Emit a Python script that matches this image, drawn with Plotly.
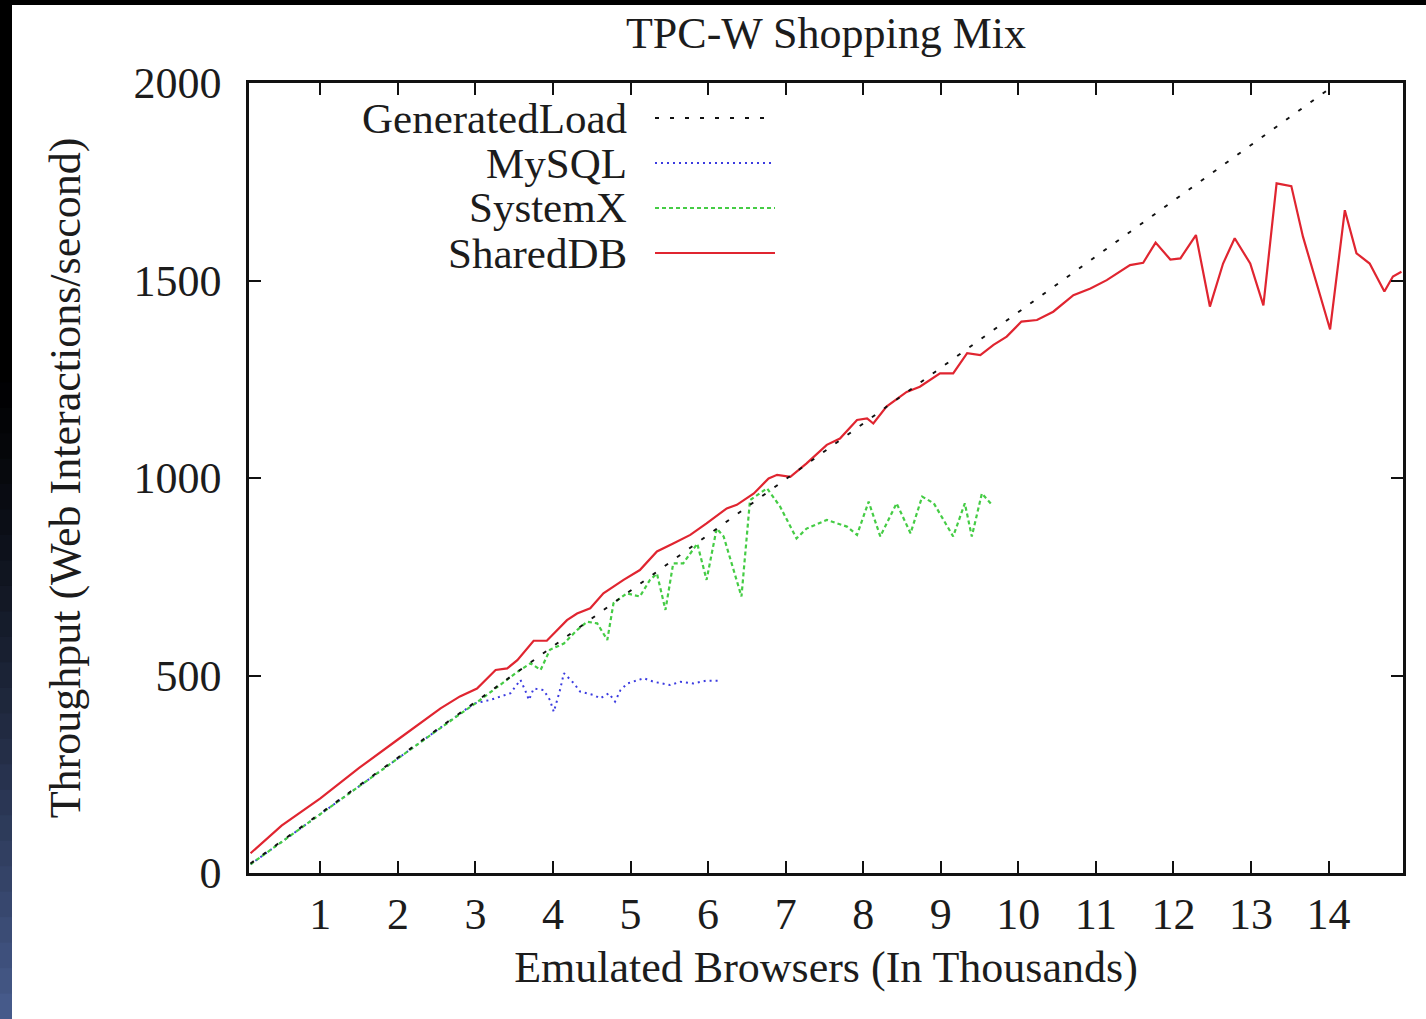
import plotly.graph_objects as go

# ---- data (x in thousands of emulated browsers, y in web interactions / second) ----
gen_x = [0.1, 1, 2, 3, 4, 5, 6, 7, 8, 9, 10, 11, 12, 13, 14]
gen_y = [24, 151, 292, 433, 574, 715, 856, 997, 1138, 1279, 1420, 1561, 1702, 1843, 1984]

mysql_x = [0.1, 1.0, 2.0, 2.98, 3.19, 3.45, 3.58, 3.64, 3.69, 3.75, 3.88, 3.96, 4.01, 4.09,
           4.14, 4.27, 4.35, 4.52, 4.61, 4.72, 4.80, 4.87, 4.96, 5.17, 5.30, 5.51, 5.64,
           5.81, 5.98, 6.16]
mysql_y = [22, 150, 290, 429, 438, 455, 489, 463, 438, 467, 463, 438, 408, 463,
           506, 480, 459, 451, 442, 455, 434, 463, 480, 493, 484, 476, 484,
           480, 487, 487]

systemx_x = [0.1, 1.0, 2.0, 2.72, 3.06, 3.54, 3.71, 3.84, 3.96, 4.14, 4.31, 4.44, 4.57,
             4.70, 4.78, 4.95, 5.12, 5.25, 5.34, 5.45, 5.55, 5.68, 5.86, 5.98, 6.11,
             6.20, 6.43, 6.54, 6.76, 6.93, 7.14, 7.27, 7.53, 7.79, 7.92, 8.07, 8.22,
             8.43, 8.61, 8.76, 8.91, 9.16, 9.31, 9.40, 9.53, 9.66]
systemx_y = [22, 150, 290, 391, 438, 509, 531, 514, 565, 581, 615, 636, 632,
             590, 683, 708, 700, 742, 758, 666, 784, 784, 834, 742, 872,
             852, 700, 944, 974, 927, 847, 872, 894, 877, 856, 940, 852,
             936, 860, 953, 936, 852, 936, 852, 961, 932]

shareddb_x = [0.1, 0.5, 1.0, 1.11, 1.5, 2.0, 2.42, 2.55, 2.80, 3.02, 3.26, 3.41, 3.54,
              3.75, 3.92, 4.18, 4.31, 4.48, 4.65, 4.91, 5.12, 5.34, 5.55, 5.77, 5.98,
              6.24, 6.37, 6.59, 6.78, 6.89, 7.06, 7.27, 7.53, 7.70, 7.92, 8.05, 8.13,
              8.30, 8.56, 8.73, 8.99, 9.16, 9.34, 9.51, 9.68, 9.85, 10.04, 10.24,
              10.45, 10.71, 10.93, 11.14, 11.44, 11.61, 11.77, 11.96, 12.09, 12.29,
              12.47, 12.64, 12.79, 12.99, 13.16, 13.33, 13.52, 13.67, 14.02, 14.21,
              14.36, 14.53, 14.72, 14.83, 14.94]
shareddb_y = [50, 120, 189, 206, 266, 338, 400, 417, 447, 467, 514, 518, 539,
              588, 588, 640, 657, 670, 708, 742, 767, 814, 834, 856, 885,
              923, 932, 961, 999, 1008, 1003, 1037, 1084, 1100, 1147, 1151, 1138,
              1181, 1218, 1231, 1265, 1265, 1316, 1311, 1337, 1358, 1396, 1400,
              1421, 1463, 1480, 1501, 1539, 1545, 1596, 1553, 1556, 1615,
              1434, 1543, 1607, 1543, 1437, 1746, 1739, 1611, 1376, 1678,
              1569, 1543, 1472, 1510, 1522]

x_ticks = list(range(1, 15))
y_ticks = [0, 500, 1000, 1500, 2000]

series_names = ["GeneratedLoad", "MySQL", "SystemX", "SharedDB"]

# ---- styles ----
FONT = "Liberation Serif, Times New Roman, serif"
TXT = "#1c1c1c"
styles = {
    "GeneratedLoad": dict(color="#111111", dash="4px,11px", width=2),
    "MySQL": dict(color="#3b3be0", dash="2px,4px", width=2),
    "SystemX": dict(color="#45cc45", dash="4px,3px", width=2.2),
    "SharedDB": dict(color="#e02530", dash="solid", width=2.2),
}
series = {
    "GeneratedLoad": (gen_x, gen_y),
    "MySQL": (mysql_x, mysql_y),
    "SystemX": (systemx_x, systemx_y),
    "SharedDB": (shareddb_x, shareddb_y),
}

fig = go.Figure()
for name in ["MySQL", "SystemX", "SharedDB", "GeneratedLoad"]:
    xs, ys = series[name]
    fig.add_trace(go.Scatter(x=xs, y=ys, mode="lines", name=name,
                             line=styles[name], showlegend=False))

W, H = 1426, 1019
L, R, T, B = 249, 23, 83, 146
pw, ph = W - L - R, H - T - B


def px_to_paper(px, py):
    return (px - L) / pw, (H - B - py) / ph


# legend drawn as text on the left, line sample on the right
shapes = []
annotations = []
for i, name in enumerate(series_names):
    py = 118 + 45 * i
    tx, ty = px_to_paper(628, py)
    annotations.append(dict(text=name, x=tx, y=ty, xref="paper", yref="paper",
                            xanchor="right", yanchor="middle", showarrow=False,
                            borderpad=0,
                            font=dict(family=FONT, size=43, color=TXT)))
    x0, _ = px_to_paper(655, py)
    x1, _ = px_to_paper(775, py)
    st = styles[name]
    shapes.append(dict(type="line", xref="paper", yref="paper", x0=x0, x1=x1,
                       y0=ty, y1=ty,
                       line=dict(color=st["color"], width=st["width"], dash=st["dash"])))

# dark page frame: black strip on top, black-to-slate strip on the left
fx0, fy_top = px_to_paper(0, 0)
fx1, fy_bot = px_to_paper(1426, 5)
shapes.append(dict(type="rect", xref="paper", yref="paper", x0=fx0, x1=fx1,
                   y0=fy_bot, y1=fy_top, fillcolor="#000000", line=dict(width=0),
                   layer="above"))
lx1, _ = px_to_paper(12, 0)
n_steps = 40
for k in range(n_steps):
    top_px = 1019 * k / n_steps
    bot_px = 1019 * (k + 1) / n_steps + 1
    t = max(0.0, (k / (n_steps - 1) - 0.35) / 0.65)
    t = t ** 1.3
    col = "rgb({},{},{})".format(int(70 * t), int(90 * t), int(138 * t))
    _, yt = px_to_paper(0, top_px)
    _, yb = px_to_paper(0, bot_px)
    shapes.append(dict(type="rect", xref="paper", yref="paper", x0=fx0, x1=lx1,
                       y0=yb, y1=yt, fillcolor=col, line=dict(width=0), layer="above"))

axis_common = dict(
    showline=True, linecolor="#111111", linewidth=2.5, mirror="ticks",
    ticks="inside", ticklen=12, tickwidth=2, tickcolor="#111111",
    showgrid=False, zeroline=False,
    tickfont=dict(family=FONT, size=44, color=TXT),
)

fig.update_layout(
    width=W, height=H, autosize=False,
    margin=dict(l=L, r=R, t=T, b=B),
    paper_bgcolor="white", plot_bgcolor="white",
    title=dict(text="TPC-W Shopping Mix", x=0.5, xref="paper", xanchor="center",
               y=1 - 33 / H, yref="container", yanchor="middle",
               font=dict(family=FONT, size=44, color=TXT)),
    xaxis=dict(range=[0.08, 14.96], tickmode="array", tickvals=x_ticks,
               ticktext=[str(v) for v in x_ticks], ticklabelstandoff=0,
               title=dict(text="Emulated Browsers (In Thousands)", standoff=14,
                          font=dict(family=FONT, size=44, color=TXT)),
               **axis_common),
    yaxis=dict(range=[0, 2000], tickmode="array", tickvals=y_ticks,
               ticktext=[str(v) for v in y_ticks], ticklabelstandoff=16,
               title=dict(text="Throughput (Web Interactions/second)", standoff=40,
                          font=dict(family=FONT, size=44, color=TXT)),
               **axis_common),
    shapes=shapes,
    annotations=annotations,
    showlegend=False,
)

fig.write_html("out.html")
